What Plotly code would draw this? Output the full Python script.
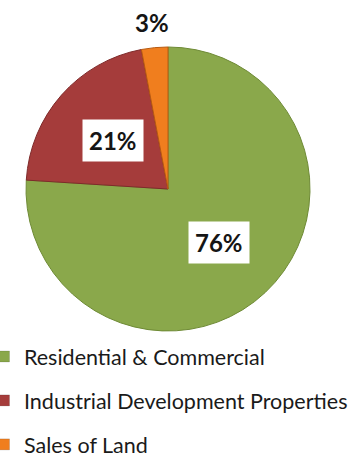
import math
import plotly.graph_objects as go

labels = ["Residential & Commercial", "Industrial Development Properties", "Sales of Land"]
values = [76, 21, 3]
colors = ["#8AA84B", "#A53C3B", "#F07E1E"]
edge_colors = ["#6E8A35", "#7E2A2A", "#B85A10"]
label_radius = [0.52, 0.52, 1.18]   # relative to pie radius
label_boxed = [True, True, False]

W, H = 355, 458
cx, cy, R = 168, 189, 142  # pie centre / radius in px

fig = go.Figure(go.Pie(
    labels=labels,
    values=values,
    sort=False,
    direction="clockwise",
    rotation=0,
    marker=dict(colors=colors, line=dict(color=edge_colors, width=1)),
    textinfo="none",
    hoverinfo="label+percent",
    showlegend=False,
    domain=dict(x=[(cx - R) / W, (cx + R) / W], y=[1 - (cy + R) / H, 1 - (cy - R) / H]),
))

# legend entries (one group each so the gap between rows can be set)
for lab, col in zip(labels, colors):
    fig.add_trace(go.Scatter(
        x=[None], y=[None], mode="markers", name=lab,
        marker=dict(symbol="square", size=11, color=col, line=dict(color="rgba(0,0,0,0.25)", width=0.5)),
        legendgroup=lab, showlegend=True, hoverinfo="skip",
    ))

total = sum(values)
cum = 0
for v, rr, boxed in zip(values, label_radius, label_boxed):
    mid = (cum + v / 2) / total * 2 * math.pi
    cum += v
    px = cx + rr * R * math.sin(mid)
    py = cy - rr * R * math.cos(mid)
    fig.add_annotation(
        x=px / W, y=1 - py / H, xref="paper", yref="paper",
        xanchor="center", yanchor="middle",
        text=f"{round(v / total * 100)}%", showarrow=False,
        font=dict(family="Lato", size=24, color="#151515", weight="bold"),
        bgcolor="white" if boxed else "rgba(0,0,0,0)",
        borderpad=6 if boxed else 0,
    )

fig.update_layout(
    width=W, height=H,
    margin=dict(l=0, r=0, t=0, b=0, autoexpand=False),
    paper_bgcolor="white",
    plot_bgcolor="white",
    xaxis=dict(visible=False),
    yaxis=dict(visible=False),
    showlegend=True,
    legend=dict(
        x=-16 / W, y=-7 / H, xanchor="left", yanchor="bottom",
        orientation="v",
        font=dict(family="Lato", size=21.5, color="#1A1A1A"),
        bgcolor="rgba(0,0,0,0)",
        tracegroupgap=13,
        itemclick=False,
    ),
)

fig.write_html("out.html")
